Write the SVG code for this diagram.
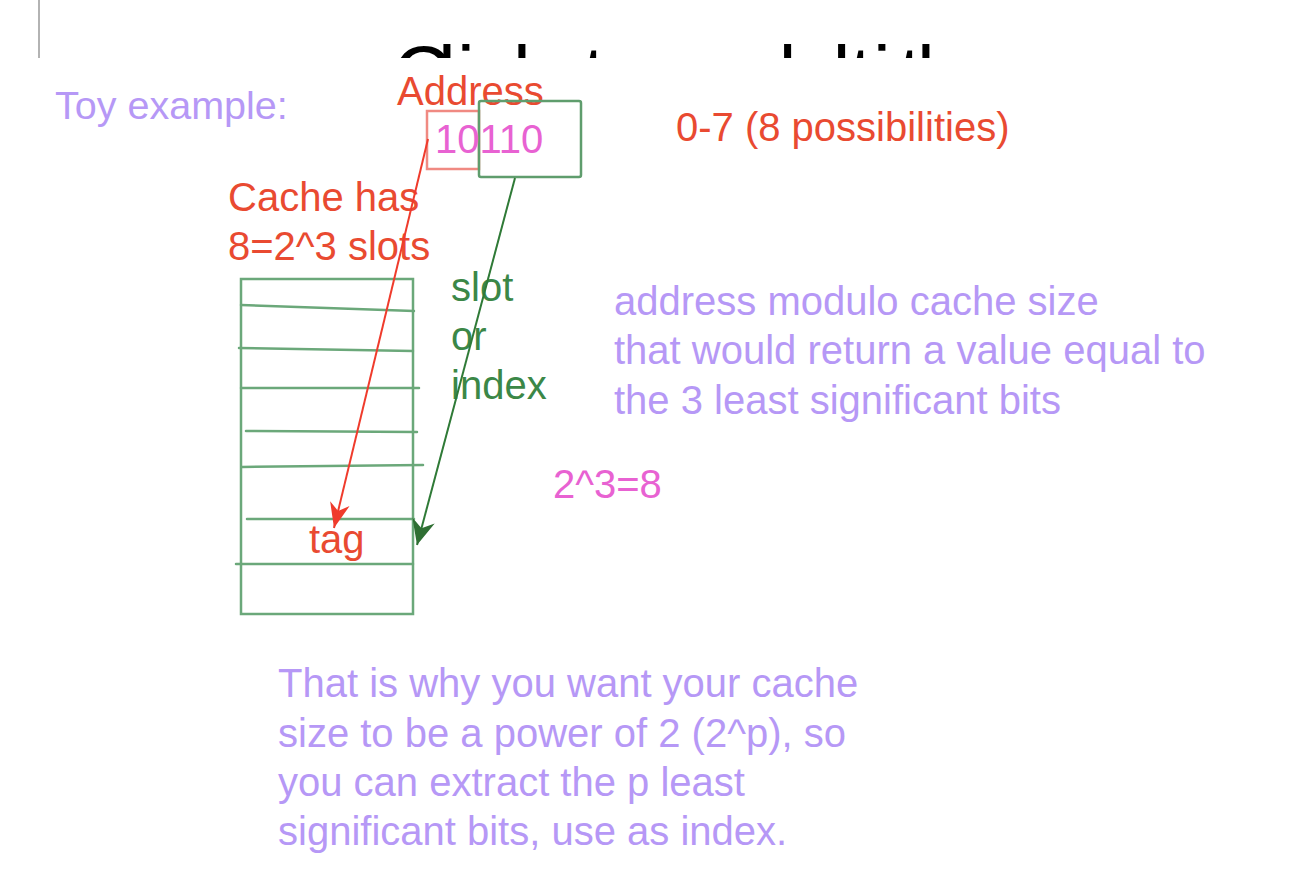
<svg xmlns="http://www.w3.org/2000/svg" width="1312" height="876" viewBox="0 0 1312 876">
<style>
text{font-family:"Liberation Sans",Arial,Helvetica,sans-serif;font-size:40px}
.purple{fill:#b698f6}
.red{fill:#e94a31}
.green{fill:#3b8747}
.magenta{fill:#e862d2}
.cache{fill:none;stroke:#6ba87a;stroke-width:2.5;stroke-linecap:round}
</style>
<defs>
<clipPath id="titleClip"><rect x="0" y="0" width="1312" height="58"/></clipPath>
<marker id="headRed" markerUnits="userSpaceOnUse" markerWidth="30" markerHeight="30" refX="0" refY="0" viewBox="-22 -10 24 20" orient="auto">
<path d="M0,0 L-20,-8 L-14,0 L-20,8 Z" fill="#ef3b2c"/>
</marker>
<marker id="headGreen" markerUnits="userSpaceOnUse" markerWidth="30" markerHeight="30" refX="0" refY="0" viewBox="-24 -11 26 22" orient="auto">
<path d="M0,0 L-22,-10 L-15,0 L-22,10 Z" fill="#2f6f33"/>
</marker>
</defs>
<rect width="1312" height="876" fill="#ffffff"/>

<g id="slide-title" clip-path="url(#titleClip)">
<line x1="39" y1="0" x2="39" y2="58" stroke="#b3b3b3" stroke-width="2"/>
<text x="393 438 457 474 513 561 583 638 662 706 752 806 824 850 873 899 917" y="102" style="font-size:80px;fill:#000">Click to add title</text>
</g>

<g id="toy-example">
<text class="purple" x="55" y="119" style="font-size:39.5px">Toy example:</text>
</g>

<g id="address">
<text class="red" x="397" y="105">Address</text>
<rect x="427" y="111" width="52" height="58" fill="none" stroke="#f08a82" stroke-width="2.5"/>
<rect x="479" y="101" width="102" height="76" rx="2" fill="none" stroke="#5f9d6d" stroke-width="2.5"/>
<text class="magenta" x="435" y="153">10110</text>
</g>

<g id="possibilities">
<text class="red" x="676" y="141">0-7 (8 possibilities)</text>
</g>

<g id="cache-label">
<text class="red" x="228" y="211">Cache has</text>
<text class="red" x="228" y="260">8=2^3 slots</text>
</g>

<g id="cache">
<rect class="cache" x="241" y="279" width="172" height="335"/>
<line class="cache" x1="241" y1="305" x2="414" y2="311"/>
<line class="cache" x1="239" y1="348" x2="413" y2="351"/>
<line class="cache" x1="241" y1="388" x2="419" y2="388"/>
<line class="cache" x1="246" y1="431" x2="417" y2="432"/>
<line class="cache" x1="242" y1="467" x2="423" y2="465"/>
<line class="cache" x1="247" y1="519" x2="414" y2="519"/>
<line class="cache" x1="236" y1="564" x2="413" y2="564"/>
<text class="red" x="309" y="553">tag</text>
</g>

<g id="slot-label">
<text class="green" x="451" y="301">slot</text>
<text class="green" x="451" y="350">or</text>
<text class="green" x="451" y="399">index</text>
</g>

<g id="modulo-note">
<text class="purple" x="614" y="315">address modulo cache size</text>
<text class="purple" x="614" y="364">that would return a value equal to</text>
<text class="purple" x="614" y="414">the 3 least significant bits</text>
</g>

<g id="power">
<text class="magenta" x="553" y="498">2^3=8</text>
</g>

<g id="bottom-note">
<text class="purple" x="278" y="697">That is why you want your cache</text>
<text class="purple" x="278" y="747">size to be a power of 2 (2^p), so</text>
<text class="purple" x="278" y="796">you can extract the p least</text>
<text class="purple" x="278" y="845">significant bits, use as index.</text>
</g>

<g id="connectors">
<line x1="428" y1="139" x2="334" y2="528" stroke="#ef3b2c" stroke-width="2" marker-end="url(#headRed)"/>
<line x1="515" y1="178" x2="417" y2="545" stroke="#2f7a37" stroke-width="2" marker-end="url(#headGreen)"/>
</g>
</svg>
